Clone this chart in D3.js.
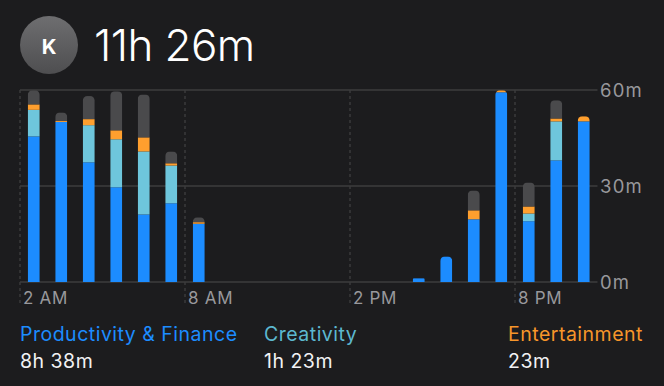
<!DOCTYPE html>
<html><head><meta charset="utf-8">
<script src="https://cdn.jsdelivr.net/npm/d3@7"></script>
<style>html,body{margin:0;padding:0;background:#1c1c1e;overflow:hidden}svg{display:block}text{font-family:Inter,Roboto,sans-serif}</style>
</head><body><svg id="c" width="664" height="386"></svg>
<script>
const title = "11h 26m";
const avatarLetter = "K";
const hours = [0,1,2,3,4,5,6,14,15,16,17,18,19,20];
const productivity = [45.5,50,37.4,29.6,21.1,24.6,18.2,1.2,8,19.6,59.3,19,38,50.2];
const creativity = [8.3,0,11.6,15,19.7,11.8,0,0,0,0,0,2.4,12.2,0];
const entertainment = [1.7,0.3,1.9,2.8,4.4,0.7,0.5,0,0,2.8,0.6,2.2,0.9,1.6];
const other = [4.4,2.7,7.2,12.2,13.4,3.7,1.5,0,0,6.2,0,7.5,5.7,0];
const seriesNames = ["Productivity & Finance","Creativity","Entertainment"];
const seriesTotals = ["8h 38m","1h 23m","23m"];
const seriesColors = ["#1c8cff","#6ec6dc","#ff9f2e","#4a4a4c"];
const labelColors = ["#1c8cff","#5cb8d0","#f7962a"];
const yTicks = [0,30,60];
const yTickLabels = ["0m","30m","60m"];
const xTicks = [0,6,12,18];
const xTickLabels = ["2 AM","8 AM","2 PM","8 PM"];

const svg = d3.select("#c");
const x = d3.scaleLinear().domain([0,21]).range([20,597.5]);
const y = d3.scaleLinear().domain([0,60]).range([282,90]);
const barW = 12, maxR = 4.5;

const defs = svg.append("defs");
const grad = defs.append("linearGradient").attr("id","av").attr("x1",0).attr("y1",0).attr("x2",0).attr("y2",1);
grad.append("stop").attr("offset",0).attr("stop-color","#6e6e70");
grad.append("stop").attr("offset",1).attr("stop-color","#4e4e50");

svg.append("circle").attr("cx",49).attr("cy",45).attr("r",29).attr("fill","url(#av)");
svg.append("text").attr("x",49).attr("y",54).attr("text-anchor","middle").attr("fill","#fff")
  .attr("font-size",20.5).attr("font-weight",700).text(avatarLetter);
svg.append("text").attr("x",94).attr("y",61).attr("fill","#fff").attr("font-size",44).attr("font-weight",300).attr("letter-spacing",-0.6).text(title);

// grid
const grid = svg.append("g");
grid.selectAll("line.h").data(yTicks).join("line").attr("class","h")
  .attr("x1",x(0)).attr("x2",x(21)).attr("y1",d=>y(d)).attr("y2",d=>y(d))
  .attr("stroke","#3c3c3e").attr("stroke-width",1.4);
grid.selectAll("line.v").data(xTicks).join("line").attr("class","v")
  .attr("x1",d=>x(d)).attr("x2",d=>x(d)).attr("y1",y(60)).attr("y2",304)
  .attr("stroke","#3c3c3e").attr("stroke-width",1.4).attr("stroke-dasharray","3 3");

// bars
const stacks = [productivity,creativity,entertainment,other];
hours.forEach((h,i)=>{
  const total = d3.sum(stacks,s=>s[i]);
  const bx = x(h+0.5)-barW/2;
  const barH = y(0)-y(total);
  const r = Math.min(maxR, barH/3);
  const id = "clip"+i;
  defs.append("clipPath").attr("id",id).append("rect")
    .attr("x",bx).attr("width",barW).attr("y",y(total)).attr("height",barH+r+1).attr("rx",r).attr("ry",r);
  const clipG = svg.append("g").append("g").attr("clip-path",`url(#${id})`);
  let acc = 0;
  stacks.forEach((s,k)=>{
    if(s[i]<=0) return;
    clipG.append("rect").attr("x",bx).attr("width",barW)
      .attr("y",y(acc+s[i])).attr("height",y(acc)-y(acc+s[i])).attr("fill",seriesColors[k]);
    acc += s[i];
  });
});

// axis labels
svg.append("g").selectAll("text").data(yTicks).join("text")
  .attr("x",600).attr("y",d=>y(d)+7).attr("fill","#98989c").attr("font-size",18.5).attr("letter-spacing",1.2).text((d,i)=>yTickLabels[i]);
svg.append("g").selectAll("text").data(xTicks).join("text")
  .attr("x",d=>x(d)+3).attr("y",304).attr("fill","#98989c").attr("font-size",17).attr("letter-spacing",0.7).text((d,i)=>xTickLabels[i]);

// legend
const legendX = [20,264,508];
const leg = svg.append("g").selectAll("g").data(seriesNames).join("g");
leg.append("text").attr("x",(d,i)=>legendX[i]).attr("y",341).attr("fill",(d,i)=>labelColors[i]).attr("font-size",19.5).attr("letter-spacing",0.5).text(d=>d);
leg.append("text").attr("x",(d,i)=>legendX[i]).attr("y",368).attr("fill","#f2f2f4").attr("font-size",19.5).attr("letter-spacing",0.5).text((d,i)=>seriesTotals[i]);
</script></body></html>
